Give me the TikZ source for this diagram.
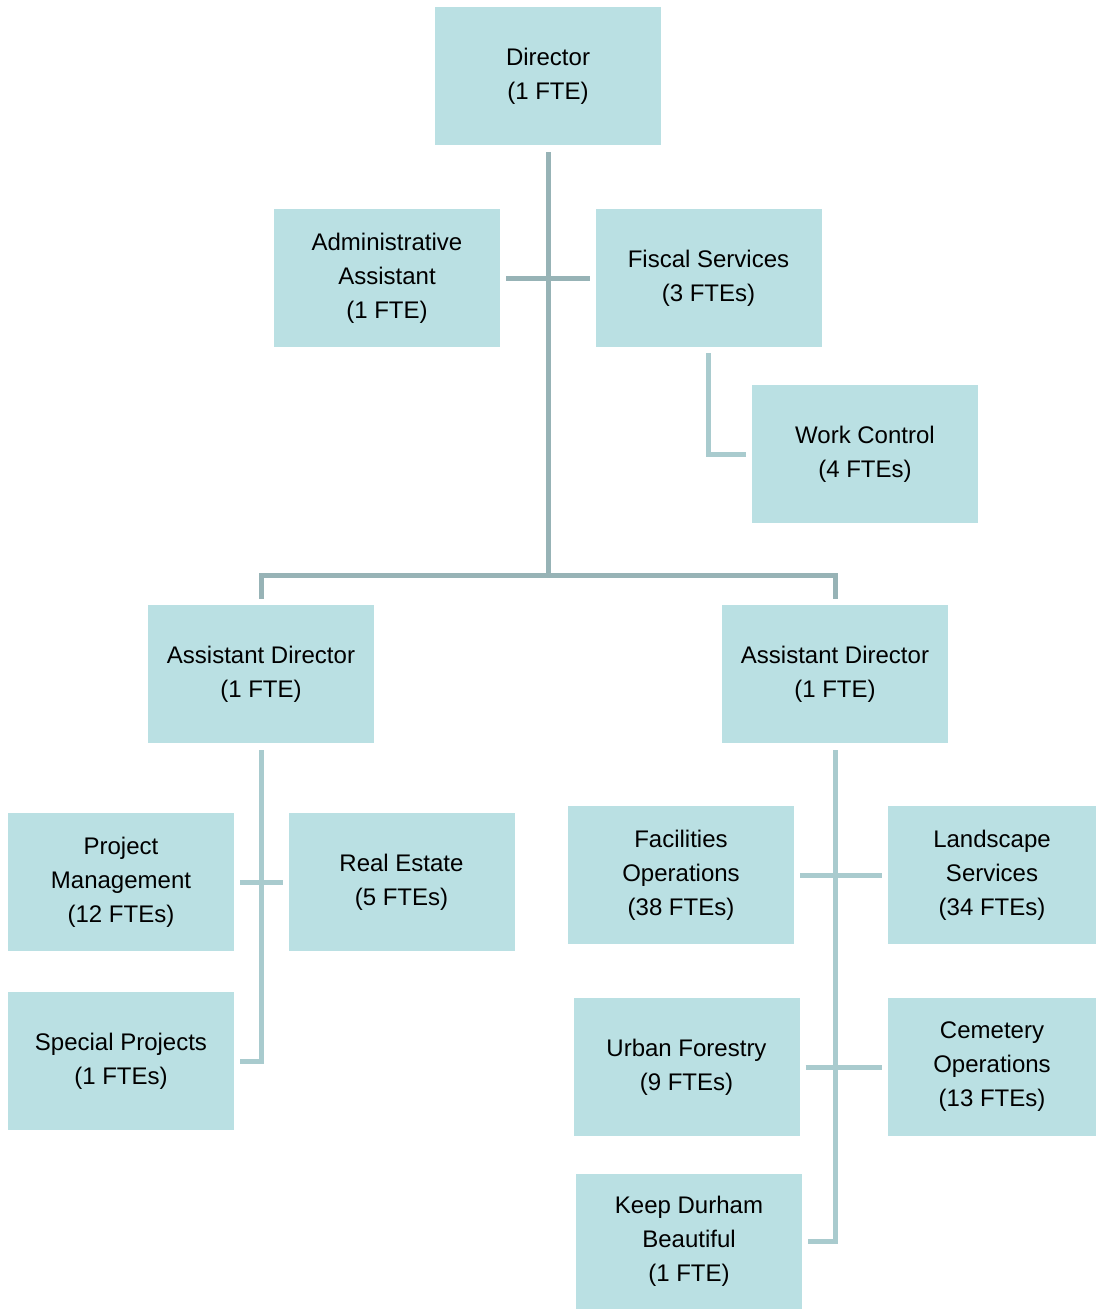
\documentclass[tikz,border=0pt]{standalone}
\usepackage{fontspec}
\setmainfont{Liberation Sans}
\definecolor{boxfill}{HTML}{BAE0E3}
\definecolor{mainline}{HTML}{97B3B6}
\definecolor{subline}{HTML}{A9CBCE}
\begin{document}
\begin{tikzpicture}[x=1pt,y=-1pt,
  box/.style={fill=boxfill, draw=none, minimum width=226pt, minimum height=138pt, inner sep=0pt, align=center,
    font=\fontsize{24}{34}\selectfont},
  mainconn/.style={draw=mainline, line width=5pt},
  subconn/.style={draw=subline, line width=5pt}]
\useasboundingbox (0,0) rectangle (1097,1309);
\node[box] (dir) at (548,76) {Director\\(1 FTE)};
\node[box] (adm) at (387,278) {Administrative\\Assistant\\(1 FTE)};
\node[box] (fis) at (708.5,278) {Fiscal Services\\(3 FTEs)};
\node[box] (wc) at (865,454) {Work Control\\(4 FTEs)};
\node[box] (ad1) at (261,674) {Assistant Director\\(1 FTE)};
\node[box] (ad2) at (835,674) {Assistant Director\\(1 FTE)};
\node[box] (pm) at (121,882) {Project\\Management\\(12 FTEs)};
\node[box] (re) at (401.5,882) {Real Estate\\(5 FTEs)};
\node[box] (sp) at (121,1061) {Special Projects\\(1 FTEs)};
\node[box] (fo) at (681,875) {Facilities\\Operations\\(38 FTEs)};
\node[box, minimum width=208pt] (ls) at (992,875) {Landscape\\Services\\(34 FTEs)};
\node[box] (uf) at (686.5,1067) {Urban Forestry\\(9 FTEs)};
\node[box, minimum width=208pt] (co) at (992,1067) {Cemetery\\Operations\\(13 FTEs)};
\node[box, minimum height=135pt] (kdb) at (689,1241.5) {Keep Durham\\Beautiful\\(1 FTE)};
% director trunk
\coordinate (dtop) at ([yshift=-7pt]dir.south);
\coordinate (bar) at (548,575);
\draw[mainconn] (dtop) -- (bar);
\draw[mainconn] ([xshift=6pt]adm.east) -- ([xshift=-5pt]fis.west);
\draw[mainconn] ([yshift=6pt]ad1.north) |- (bar) -| ([yshift=6pt]ad2.north);
% fiscal to work control
\draw[subconn] ([yshift=-6pt]fis.south) |- ([xshift=-6pt]wc.west);
% left assistant director
\coordinate (l1) at ([yshift=-7pt]ad1.south);
\draw[subconn] (l1) |- ([xshift=6pt]sp.east);
\draw[subconn] ([xshift=6pt]pm.east) -- ([xshift=-5pt]re.west);
% right assistant director
\coordinate (r1) at ([yshift=-7pt]ad2.south);
\draw[subconn] (r1) |- ([xshift=6pt]kdb.east);
\draw[subconn] ([xshift=6pt]fo.east) -- ([xshift=-6pt]ls.west);
\draw[subconn] ([xshift=6pt]uf.east) -- ([xshift=-6pt]co.west);
\end{tikzpicture}
\end{document}
